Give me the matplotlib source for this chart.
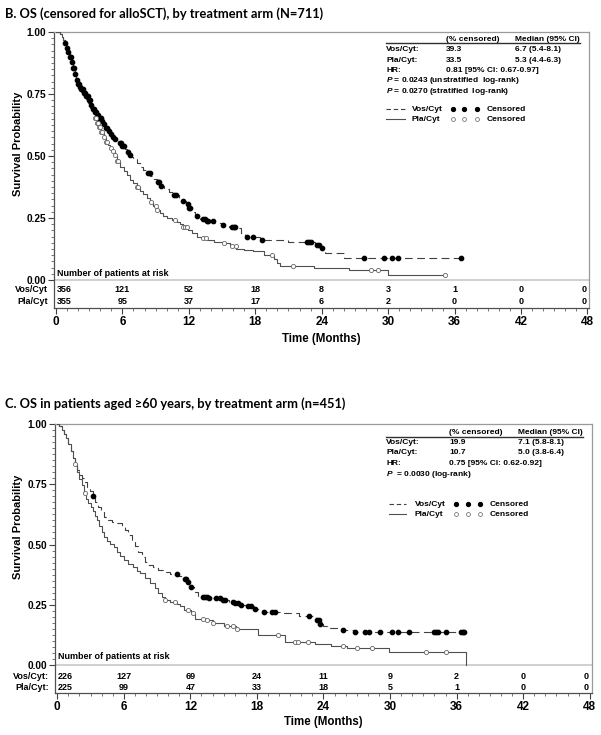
import numpy as np
import matplotlib
matplotlib.use('Agg')
import matplotlib.pyplot as plt
from matplotlib.ticker import FixedLocator, MultipleLocator

plt.rcParams['font.family'] = ['Liberation Sans', 'DejaVu Sans']
plt.rcParams['mathtext.fontset'] = 'custom'
plt.rcParams['mathtext.it'] = 'Liberation Sans:italic:bold'
plt.rcParams['mathtext.rm'] = 'Liberation Sans:bold'

# ---- Panel B: OS censored for alloSCT ----
b_vos_t = [0, 0.35, 0.5, 0.65, 0.8, 0.95, 1.1, 1.25, 1.4, 1.55,
           1.7, 1.85, 2.0, 2.15, 2.3, 2.5, 2.7, 2.9, 3.1, 3.3,
           3.5, 3.7, 3.9, 4.1, 4.3, 4.5, 4.7, 4.9, 5.1, 5.3,
           5.5, 5.8, 6.0, 6.2, 6.4, 6.6, 6.8, 7.0, 7.3, 7.6,
           7.9, 8.2, 8.5, 8.8, 9.1, 9.4, 9.8, 10.2, 10.7, 11.1,
           11.4, 11.7, 12.0, 12.3, 12.6, 13.0, 13.6, 14.3, 15.0, 15.6,
           16.3, 16.7, 17.1, 18.4, 21.0, 23.4, 23.9, 24.3, 26.0]
b_vos_s = [1.0, 0.99, 0.98, 0.967, 0.954, 0.937, 0.92, 0.90, 0.88, 0.855,
           0.83, 0.806, 0.79, 0.78, 0.77, 0.755, 0.742, 0.725, 0.707, 0.69,
           0.677, 0.665, 0.652, 0.64, 0.627, 0.612, 0.60, 0.59, 0.578, 0.568,
           0.562, 0.552, 0.54, 0.528, 0.518, 0.505, 0.495, 0.487, 0.472, 0.457,
           0.445, 0.433, 0.42, 0.408, 0.395, 0.378, 0.365, 0.355, 0.343, 0.33,
           0.318, 0.305, 0.29, 0.275, 0.26, 0.247, 0.238, 0.23, 0.222, 0.215,
           0.208, 0.19, 0.175, 0.161, 0.155, 0.141, 0.128, 0.110, 0.088]
b_vos_end = 36.56
b_vos_cens = [0.8, 0.95, 1.1, 1.25, 1.35, 1.45, 1.55, 1.65, 1.75, 1.9, 2.0, 2.1, 2.2, 2.3, 2.45, 2.55,
              2.65, 2.75, 2.85, 2.95, 3.05, 3.15, 3.3, 3.4, 3.5, 3.6, 3.75, 3.9, 4.05, 4.2, 4.35, 4.5,
              4.65, 4.8, 5.0, 5.15, 5.3, 5.8, 5.9, 6.0, 6.1, 6.5, 6.65, 8.3, 8.45, 9.2, 9.35, 9.45,
              10.7, 10.85, 11.5, 11.9, 12.0, 12.1, 12.7, 13.3, 13.45, 13.6, 13.75, 14.2, 15.1, 15.9,
              16.05, 16.2, 17.3, 17.8, 18.6, 22.7, 22.85, 23.0, 23.6, 23.8, 24.0, 27.8, 29.6, 30.35,
              30.86, 36.56]

b_pla_t = [0, 0.35, 0.5, 0.65, 0.8, 0.95, 1.1, 1.25, 1.4, 1.55,
           1.7, 1.85, 2.0, 2.15, 2.3, 2.5, 2.7, 2.9, 3.1, 3.3,
           3.5, 3.7, 3.9, 4.1, 4.3, 4.5, 4.7, 4.9, 5.1, 5.3,
           5.5, 5.8, 6.1, 6.4, 6.7, 7.0, 7.3, 7.6, 7.9, 8.2,
           8.5, 8.8, 9.1, 9.4, 9.7, 10.0, 10.5, 10.9, 11.2, 11.5,
           11.9, 12.3, 12.7, 13.1, 13.6, 14.3, 15.1, 15.7, 16.3, 17.0,
           17.8, 18.75, 19.7, 20.0, 20.25, 23.3, 26.5, 30.0]
b_pla_s = [1.0, 0.99, 0.98, 0.967, 0.954, 0.937, 0.92, 0.90, 0.88, 0.855,
           0.83, 0.806, 0.79, 0.775, 0.76, 0.745, 0.73, 0.712, 0.693, 0.675,
           0.655, 0.635, 0.615, 0.598, 0.575, 0.558, 0.545, 0.532, 0.522, 0.505,
           0.48, 0.457, 0.44, 0.423, 0.405, 0.39, 0.376, 0.36, 0.345, 0.329,
           0.315, 0.298, 0.282, 0.27, 0.258, 0.249, 0.242, 0.235, 0.225, 0.215,
           0.202, 0.188, 0.175, 0.168, 0.161, 0.155, 0.148, 0.137, 0.124, 0.121,
           0.117, 0.101, 0.085, 0.07, 0.058, 0.050, 0.040, 0.020]
b_pla_end = 35.1
b_pla_cens = [3.5, 3.6, 3.7, 3.8, 3.9, 4.0, 4.1, 4.2, 4.35, 4.5, 4.6, 5.0, 5.15, 5.3, 5.5, 5.6, 7.3,
              7.45, 8.6, 9.0, 9.15, 10.75, 11.5, 11.65, 11.8, 13.3, 13.55, 15.2, 15.9, 16.25, 19.5,
              21.4, 28.5, 29.1, 35.1]

b_risk_vos = [356, 121, 52, 18, 8, 3, 1, 0, 0]
b_risk_pla = [355, 95, 37, 17, 6, 2, 0, 0, 0]
b_stats = [('Vos/Cyt:', '39.3', '6.7 (5.4-8.1)'),
           ('Pla/Cyt:', '33.5', '5.3 (4.4-6.3)'),
           ('HR:', '0.81 [95% CI: 0.67-0.97]', '')]
b_pvals = ['$P$ = 0.0243 (unstratified  log-rank)',
           '$P$ = 0.0270 (stratified  log-rank)']

# ---- Panel C: OS in patients aged >=60 ----
c_vos_t = [0, 0.2, 0.4, 0.6, 0.8, 1.0, 1.2, 1.4, 1.6, 1.8,
           2.0, 2.2, 2.45, 2.7, 2.95, 3.2, 3.45, 3.7, 3.95, 4.2,
           4.5, 4.9, 5.4, 5.8, 6.1, 6.4, 6.7, 7.0, 7.3, 7.6,
           7.9, 8.2, 8.6, 9.1, 9.6, 10.2, 10.8, 11.3, 11.7, 12.0,
           12.3, 12.7, 13.7, 14.9, 15.5, 15.9, 16.5, 17.1, 17.7, 18.5,
           20.3, 21.8, 23.3, 23.6, 24.0, 24.3, 25.7, 26.8]
c_vos_s = [1.0, 0.99, 0.975, 0.958, 0.94, 0.915, 0.89, 0.86, 0.835, 0.809,
           0.79, 0.775, 0.758, 0.74, 0.722, 0.7, 0.678, 0.657, 0.635, 0.615,
           0.60, 0.595, 0.588, 0.578, 0.56, 0.54, 0.519, 0.495, 0.47, 0.45,
           0.429, 0.415, 0.405, 0.395, 0.387, 0.378, 0.369, 0.358, 0.346, 0.325,
           0.305, 0.284, 0.277, 0.27, 0.263, 0.256, 0.25, 0.243, 0.233, 0.221,
           0.214, 0.203, 0.187, 0.172, 0.16, 0.152, 0.146, 0.135]
c_vos_end = 36.7
c_vos_cens = [3.27, 10.76, 11.5, 11.65, 11.8, 12.1, 13.1, 13.3, 13.5, 13.7, 14.3, 14.65, 14.9,
              15.15, 15.85, 16.05, 16.3, 16.6, 17.2, 17.5, 17.8, 18.6, 19.4, 19.6, 22.7, 23.4,
              23.55, 23.7, 25.8, 26.8, 27.7, 28.1, 29.1, 30.2, 30.7, 31.7, 34.0, 34.15, 34.3, 35.0,
              36.4, 36.55, 36.7]

c_pla_t = [0, 0.2, 0.4, 0.6, 0.8, 1.0, 1.2, 1.4, 1.6, 1.8,
           2.0, 2.2, 2.4, 2.6, 2.8, 3.0, 3.2, 3.4, 3.6, 3.8,
           4.0, 4.2, 4.5, 4.8, 5.1, 5.4, 5.7, 6.0, 6.4, 6.8,
           7.2, 7.5, 7.9, 8.4, 8.8, 9.1, 9.4, 9.7, 10.2, 10.8,
           11.1, 11.4, 12.1, 12.4, 13.3, 14.0, 15.0, 16.1, 18.1, 20.5,
           23.2, 24.7, 26.1, 29.9, 36.8]
c_pla_s = [1.0, 0.99, 0.975, 0.958, 0.94, 0.915, 0.89, 0.86, 0.832, 0.80,
           0.77, 0.745, 0.715, 0.69, 0.672, 0.655, 0.638, 0.62, 0.60, 0.575,
           0.55, 0.532, 0.515, 0.503, 0.488, 0.47, 0.452, 0.436, 0.42, 0.405,
           0.39, 0.38, 0.36, 0.339, 0.318, 0.297, 0.283, 0.27, 0.262, 0.253,
           0.245, 0.228, 0.215, 0.193, 0.187, 0.173, 0.162, 0.148, 0.124, 0.097,
           0.086, 0.079, 0.072, 0.055, 0.0]
c_pla_end = 36.8
c_pla_cens = [1.62, 2.52, 9.7, 10.6, 11.75, 12.2, 13.1, 13.5, 14.05, 15.3, 15.85, 16.2, 19.9, 21.4,
              21.7, 22.6, 25.8, 27.0, 28.4, 33.2, 35.0]

c_risk_vos = [226, 127, 69, 24, 11, 9, 2, 0, 0]
c_risk_pla = [225, 99, 47, 33, 18, 5, 1, 0, 0]
c_stats = [('Vos/Cyt:', '19.9', '7.1 (5.8-8.1)'),
           ('Pla/Cyt:', '10.7', '5.0 (3.8-6.4)'),
           ('HR:', '0.75 [95% CI: 0.62-0.92]', '')]
c_pvals = ['$P$  = 0.0030 (log-rank)']

risk_times = [0, 6, 12, 18, 24, 30, 36, 42, 48]

LINE_COL = '#404040'
PLA_COL = '#505050'


def surv_at(t, s, x):
    t = np.asarray(t)
    s = np.asarray(s)
    idx = np.searchsorted(t, x, side='right') - 1
    return s[idx]


def draw_panel(rect, xlim, ylim, vos, pla, risk_v, risk_p, labels, stats, pvals, geo):
    ax = fig.add_axes(rect)
    ax.set_xlim(*xlim)
    ax.set_ylim(*ylim)

    # KM curves
    for (t, s, end, cens), style in ((vos, 'vos'), (pla, 'pla')):
        tt = list(t) + [end]
        ss = list(s) + [s[-1]]
        cy = surv_at(t, s, np.asarray(cens))
        if style == 'vos':
            ax.step(tt, ss, where='post', color=LINE_COL, lw=0.8, dashes=(7, 4), zorder=3)
            ax.plot(cens, cy, 'o', ms=3.1, color='black', mec='black', zorder=4)
        else:
            ax.step(tt, ss, where='post', color=PLA_COL, lw=0.8, zorder=3)
            ax.plot(cens, cy, 'o', ms=3.0, mfc='white', mec='#666666', mew=0.6, zorder=4)

    ax.axhline(0, color='#c8c8c8', lw=1.2, zorder=1)

    # spines and ticks
    for side in ('top', 'right'):
        ax.spines[side].set_color('#9a9a9a')
    for side in ('left', 'bottom'):
        ax.spines[side].set_color('#505050')
    for sp in ax.spines.values():
        sp.set_linewidth(0.9)
    ax.set_xticks(risk_times)
    ax.xaxis.set_minor_locator(MultipleLocator(1))
    ax.set_yticks([0, 0.25, 0.5, 0.75, 1.0])
    ax.set_yticklabels(['0.00', '0.25', '0.50', '0.75', '1.00'])
    ax.yaxis.set_minor_locator(FixedLocator(np.arange(0, 1.0001, 0.025)))
    ax.tick_params(axis='x', which='major', length=4, width=0.8, labelsize=8.5, pad=2, color='#404040')
    ax.tick_params(axis='x', which='minor', length=2, width=0.6, color='#606060')
    ax.tick_params(axis='y', which='major', length=4, width=0.8, labelsize=7.3, pad=1.5, color='#404040')
    ax.tick_params(axis='y', which='minor', length=2, width=0.6, color='#606060')
    for lab in ax.get_xticklabels() + ax.get_yticklabels():
        lab.set_fontweight('bold')

    # risk table
    ax.text(0.05, geo['num_y'], 'Number of patients at risk', fontsize=6.5, fontweight='bold',
            va='center', ha='left')
    for row_y, lab, vals in ((geo['row_v'], labels[0], risk_v), (geo['row_p'], labels[1], risk_p)):
        ax.text(-0.012, row_y, lab, transform=ax.get_yaxis_transform(), fontsize=6.5,
                fontweight='bold', ha='right', va='center')
        for i, (x, v) in enumerate(zip(risk_times, vals)):
            ha = 'left' if i == 0 else ('right' if i == len(vals) - 1 else 'center')
            xx = x + 0.05 if i == 0 else (x - 0.1 if ha == 'right' else x)
            ax.text(xx, row_y, str(v), fontsize=6.5, fontweight='bold', ha=ha, va='center')

    # stats box
    tr = ax.transAxes
    fs = 6
    c0, c1, c2 = geo['cols']
    ax.text(c1, geo['head'], '(% censored)', transform=tr, fontsize=fs, fontweight='bold', va='center')
    ax.text(c2, geo['head'], 'Median (95% CI)', transform=tr, fontsize=fs, fontweight='bold', va='center')
    ax.plot([c0, 0.983], [geo['uline'], geo['uline']], transform=tr, color='#303030', lw=1.0)
    for k, (a, b, c) in enumerate(stats):
        y = geo['rows'][k]
        ax.text(c0, y, a, transform=tr, fontsize=fs, fontweight='bold', va='center')
        ax.text(c1, y, b, transform=tr, fontsize=fs, fontweight='bold', va='center')
        if c:
            ax.text(c2, y, c, transform=tr, fontsize=fs, fontweight='bold', va='center')
    for k, p in enumerate(pvals):
        ax.text(c0, geo['rows'][3 + k], p, transform=tr, fontsize=fs, fontweight='bold', va='center')

    # legend
    lx0, lx1 = geo['leg_line']
    for y, name, kind in ((geo['leg'][0], 'Vos/Cyt', 'vos'), (geo['leg'][1], 'Pla/Cyt', 'pla')):
        if kind == 'vos':
            ax.plot([lx0, lx1], [y, y], transform=tr, color=LINE_COL, lw=0.8, dashes=(4, 2.5))
            ax.plot(geo['leg_dots'], [y] * 3, 'o', transform=tr, ms=2.8, color='black')
        else:
            ax.plot([lx0, lx1], [y, y], transform=tr, color=PLA_COL, lw=0.8)
            ax.plot(geo['leg_dots'], [y] * 3, 'o', transform=tr, ms=2.8, mfc='white',
                    mec='#777777', mew=0.6)
        ax.text(geo['leg_name'], y, name, transform=tr, fontsize=fs, fontweight='bold', va='center')
        ax.text(geo['leg_cens'], y, 'Censored', transform=tr, fontsize=fs, fontweight='bold',
                va='center')
    return ax


W, H = 601, 735
fig = plt.figure(figsize=(W / 100, H / 100), dpi=100)

# panel B
fig.text(5 / W, 1 - 13.5 / H, 'B. OS (censored for alloSCT), by treatment arm (N=711)',
         family=['Lato', 'DejaVu Sans'], fontweight='bold', fontsize=9.3, va='center', ha='left')
geo_b = dict(num_y=0.027, row_v=-0.040, row_p=-0.0875,
             cols=(0.6206, 0.732, 0.8617), head=0.9728, uline=0.961,
             rows=[0.935, 0.897, 0.861, 0.824, 0.786], leg=[0.72, 0.683],
             leg_line=(0.6206, 0.656), leg_name=0.6686,
             leg_dots=[0.7464, 0.767, 0.790], leg_cens=0.8088)
draw_panel([54 / W, 1 - 308 / H, 535 / W, 276 / H], (-0.18, 48.15), (-0.113, 1.0),
           (b_vos_t, b_vos_s, b_vos_end, b_vos_cens), (b_pla_t, b_pla_s, b_pla_end, b_pla_cens),
           b_risk_vos, b_risk_pla, ('Vos/Cyt', 'Pla/Cyt'), b_stats, b_pvals, geo_b)
fig.text(18 / W, 1 - 143.5 / H, 'Survival Probability', rotation=90, fontsize=8,
         fontweight='bold', ha='center', va='center')
fig.text(321 / W, 1 - 339 / H, 'Time (Months)', fontsize=8.3, fontweight='bold',
         ha='center', va='center')

# panel C
fig.text(5 / W, 1 - 403.3 / H, 'C. OS in patients aged \u226560 years, by treatment arm (n=451)',
         family=['Lato', 'DejaVu Sans'], fontweight='bold', fontsize=9.3, va='center', ha='left')
geo_c = dict(num_y=0.034, row_v=-0.0485, row_p=-0.0925,
             cols=(0.6164, 0.734, 0.8628), head=0.969, uline=0.953,
             rows=[0.9305, 0.893, 0.854, 0.8116], leg=[0.7026, 0.665],
             leg_line=(0.6226, 0.6536), leg_name=0.670,
             leg_dots=[0.7467, 0.7697, 0.7914], leg_cens=0.810)
draw_panel([55 / W, 1 - 693 / H, 537 / W, 269 / H], (-0.2, 48.2), (-0.116, 1.0),
           (c_vos_t, c_vos_s, c_vos_end, c_vos_cens), (c_pla_t, c_pla_s, c_pla_end, c_pla_cens),
           c_risk_vos, c_risk_pla, ('Vos/Cyt:', 'Pla/Cyt:'), c_stats, c_pvals, geo_c)
fig.text(18 / W, 1 - 527 / H, 'Survival Probability', rotation=90, fontsize=8,
         fontweight='bold', ha='center', va='center')
fig.text(323 / W, 1 - 721.7 / H, 'Time (Months)', fontsize=8.3, fontweight='bold',
         ha='center', va='center')

fig.savefig('out.png', dpi=100)
